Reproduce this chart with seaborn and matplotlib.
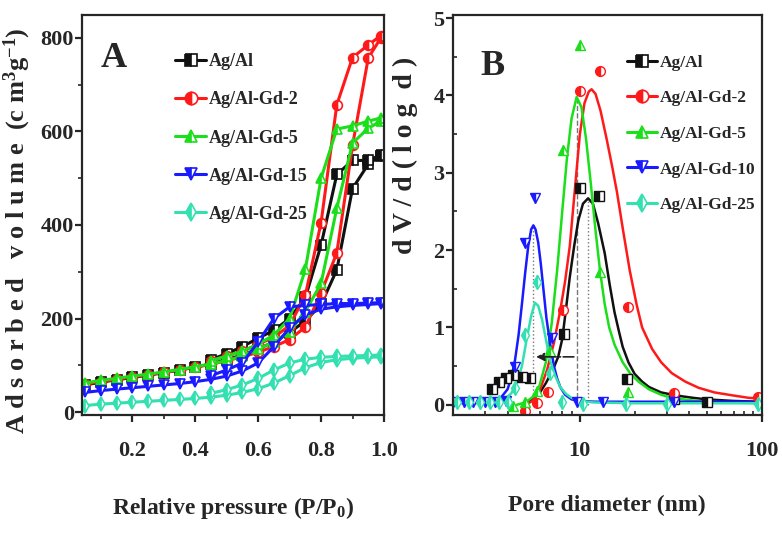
import numpy as np
import pandas as pd
import matplotlib
matplotlib.use("Agg")
import matplotlib.pyplot as plt
from matplotlib.lines import Line2D
from matplotlib.ticker import MultipleLocator, FixedLocator, NullFormatter
import seaborn as sns

# ---------------- data: panel A (N2 isotherms) ----------------
SERIES_A = ['Ag/Al', 'Ag/Al-Gd-2', 'Ag/Al-Gd-5', 'Ag/Al-Gd-15', 'Ag/Al-Gd-25']
P_ADS = [0.05, 0.10, 0.15, 0.20, 0.25, 0.30, 0.35, 0.40, 0.45, 0.50,
         0.55, 0.60, 0.65, 0.70, 0.75, 0.80, 0.85, 0.90, 0.95, 0.99]
P_DES = [0.99, 0.95, 0.90, 0.85, 0.80, 0.75, 0.70, 0.65, 0.60, 0.55, 0.50, 0.45]

ads_agal = [58, 64, 69, 74, 79, 84, 90, 96, 103, 112, 122, 135, 150, 170, 195, 230, 304, 478, 530, 548]
des_agal = [550, 538, 538, 508, 357, 245, 200, 175, 158, 140, 125, 112]
ads_gd2 = [60, 65, 70, 75, 80, 85, 90, 96, 102, 110, 118, 128, 140, 155, 182, 255, 340, 570, 757, 800]
des_gd2 = [805, 785, 758, 657, 405, 250, 185, 160, 145, 130, 120, 110]
ads_gd5 = [62, 68, 72, 77, 81, 86, 91, 97, 103, 110, 120, 135, 150, 172, 215, 275, 436, 575, 607, 622]
des_gd5 = [629, 622, 612, 605, 500, 305, 200, 165, 145, 130, 120, 110]
ads_gd15 = [42, 46, 49, 52, 55, 58, 61, 65, 70, 77, 88, 105, 140, 180, 208, 220, 225, 228, 230, 232]
des_gd15 = [234, 233, 232, 232, 230, 228, 225, 200, 150, 105, 90, 78]
ads_gd25 = [14, 17, 19, 21, 23, 25, 27, 29, 32, 36, 42, 50, 62, 78, 95, 106, 112, 115, 117, 118]
des_gd25 = [122, 121, 120, 119, 117, 113, 105, 90, 72, 58, 48, 40]

# ---------------- data: panel B (pore size distribution) ----------------
SERIES_B = ['Ag/Al', 'Ag/Al-Gd-2', 'Ag/Al-Gd-5', 'Ag/Al-Gd-10', 'Ag/Al-Gd-25']

# measured points
pts_agal_d = [3.3, 3.6, 3.9, 4.3, 4.8, 5.3, 8.2, 10.0, 12.8, 18.2, 33, 50]
pts_agal_v = [0.20, 0.30, 0.35, 0.38, 0.36, 0.35, 0.92, 2.80, 2.70, 0.33, 0.08, 0.04]
pts_gd2_d = [5.0, 5.8, 6.7, 8.1, 10.0, 12.9, 18.4, 33, 95]
pts_gd2_v = [-0.08, 0.02, 0.17, 1.22, 4.06, 4.32, 1.27, 0.15, 0.10]
pts_gd5_d = [4.3, 5.0, 5.8, 6.85, 8.1, 10.0, 12.9, 18.4]
pts_gd5_v = [-0.02, 0.03, 0.18, 0.70, 3.30, 4.65, 1.72, 0.17]
pts_gd10_d = [2.0, 2.3, 2.6, 3.0, 3.4, 3.9, 4.4, 5.0, 5.66, 7.0, 9.6, 13.4, 33]
pts_gd10_v = [0.04, 0.04, 0.04, 0.04, 0.04, 0.05, 0.49, 2.09, 2.68, 0.86, 0.03, 0.03, 0.03]
pts_gd25_d = [2.1, 2.46, 2.82, 3.2, 3.6, 4.0, 4.4, 5.0, 5.8, 6.85, 7.96, 10.4, 18.0, 30, 95]
pts_gd25_v = [0.03, 0.03, 0.03, 0.03, 0.03, 0.04, 0.22, 0.90, 1.59, 0.41, 0.03, 0.01, 0.01, 0.01, 0.01]

# fitted curves
fit_agal_d = [5.0, 5.5, 6.0, 6.5, 7.1, 7.6, 8.0, 8.4, 8.8, 9.3, 9.8, 10.4, 11.1, 11.8, 12.6,
              13.7, 14.6, 15.5, 16.4, 17.2, 18.5, 20, 22, 24, 28, 34, 42, 50, 70, 100]
fit_agal_v = [0.02, 0.07, 0.15, 0.28, 0.45, 0.62, 0.85, 1.25, 1.65, 2.05, 2.38, 2.60, 2.67, 2.60, 2.35,
              1.96, 1.55, 1.20, 0.95, 0.75, 0.55, 0.40, 0.30, 0.23, 0.16, 0.12, 0.09, 0.07, 0.05, 0.04]
fit_gd2_d = [5.0, 5.5, 6.0, 6.6, 7.2, 7.8, 8.3, 8.8, 9.4, 10.0, 10.6, 11.2, 11.6, 12.2, 13.0, 14.0,
             15.0, 16.0, 17.3, 18.8, 20.5, 22, 25, 28, 32, 38, 45, 55, 70, 85, 100]
fit_gd2_v = [0.0, 0.05, 0.18, 0.45, 0.80, 1.22, 1.60, 2.05, 2.80, 3.50, 3.90, 4.05, 4.08, 4.02, 3.80, 3.45,
             3.10, 2.75, 2.25, 1.74, 1.30, 1.00, 0.72, 0.55, 0.41, 0.30, 0.22, 0.16, 0.12, 0.09, 0.08]
fit_gd5_d = [4.5, 5.0, 5.5, 6.0, 6.5, 7.0, 7.5, 8.0, 8.5, 9.0, 9.6, 10.2, 10.8, 11.5, 12.2, 12.9,
             13.7, 14.5, 15.5, 17.2, 19, 21, 24, 28, 32, 40, 50, 65, 100]
fit_gd5_v = [0.0, 0.03, 0.10, 0.25, 0.55, 1.05, 1.74, 2.50, 3.20, 3.70, 3.98, 3.85, 3.45, 2.85, 2.25, 1.74,
             1.30, 1.00, 0.78, 0.55, 0.40, 0.30, 0.20, 0.13, 0.09, 0.06, 0.04, 0.03, 0.02]
fit_gd10_d = [2.0, 3.0, 3.4, 3.7, 4.0, 4.2, 4.4, 4.6, 4.8, 5.0, 5.2, 5.4, 5.55, 5.7, 5.9, 6.1, 6.3,
              6.55, 6.85, 7.2, 7.5, 7.8, 8.3, 9.0, 10, 12, 20, 40, 100]
fit_gd10_v = [0.04, 0.04, 0.06, 0.10, 0.20, 0.35, 0.58, 0.90, 1.30, 1.70, 2.05, 2.27, 2.32, 2.27, 2.10, 1.82, 1.50,
              1.12, 0.80, 0.50, 0.34, 0.23, 0.13, 0.07, 0.05, 0.04, 0.04, 0.04, 0.04]
fit_gd25_d = [2.0, 3.0, 3.5, 3.9, 4.2, 4.5, 4.8, 5.1, 5.4, 5.66, 5.9, 6.2, 6.5, 6.85, 7.3, 7.8,
              8.4, 9.0, 10, 12, 20, 40, 100]
fit_gd25_v = [0.02, 0.02, 0.04, 0.08, 0.15, 0.28, 0.50, 0.85, 1.15, 1.32, 1.28, 1.10, 0.85, 0.58, 0.38, 0.23,
              0.14, 0.09, 0.05, 0.03, 0.02, 0.02, 0.02]

COLORS = ['#111111', '#ff1a1a', '#1adf1a', '#1a1aff', '#33e0b0']
MARKERS = ['s', 'o', '^', 'v', 'd']

# ---------------- style ----------------
sns.set_theme(style="ticks")
plt.rcParams['font.family'] = ['Liberation Serif', 'DejaVu Serif']
plt.rcParams['font.weight'] = 'bold'
plt.rcParams['axes.linewidth'] = 1.6
plt.rcParams['mathtext.fontset'] = 'custom'
plt.rcParams['mathtext.rm'] = 'Liberation Serif:bold'
plt.rcParams['mathtext.it'] = 'Liberation Serif:bold'
plt.rcParams['mathtext.bf'] = 'Liberation Serif:bold'

fig = plt.figure(figsize=(7.82, 5.36), dpi=100)
axA = fig.add_axes([0.105, 0.226, 0.386, 0.746])
axB = fig.add_axes([0.579, 0.226, 0.395, 0.746])


def mk_kws(c, m, ms=7, mew=1.2):
    return dict(color=c, marker=m, markersize=ms, markeredgecolor=c,
                markerfacecolor=c, markerfacecoloralt='white',
                fillstyle='left', markeredgewidth=mew)


# ---------------- panel A ----------------
ads_all = [ads_agal, ads_gd2, ads_gd5, ads_gd15, ads_gd25]
des_all = [des_agal, des_gd2, des_gd5, des_gd15, des_gd25]
for name, ads, des, c, m in zip(SERIES_A, ads_all, des_all, COLORS, MARKERS):
    df_a = pd.DataFrame({'p': P_ADS, 'v': ads})
    df_d = pd.DataFrame({'p': P_DES, 'v': des})
    for df in (df_a, df_d):
        sns.lineplot(data=df, x='p', y='v', ax=axA, sort=False, estimator=None,
                     linewidth=2.2, legend=False, **mk_kws(c, m))

axA.set_xlim(0.04, 1.0)
axA.set_ylim(-6, 849)
axA.xaxis.set_major_locator(FixedLocator([0.2, 0.4, 0.6, 0.8, 1.0]))
axA.xaxis.set_minor_locator(FixedLocator([0.1, 0.3, 0.5, 0.7, 0.9]))
axA.yaxis.set_major_locator(MultipleLocator(200))
axA.yaxis.set_minor_locator(MultipleLocator(100))
axA.set_xticklabels(['0.2', '0.4', '0.6', '0.8', '1.0'])
axA.tick_params(axis='both', which='major', direction='out', length=5, width=1.6, labelsize=16)
axA.tick_params(axis='both', which='minor', direction='out', length=3, width=1.2)
axA.tick_params(axis='x', which='major', pad=14)
axA.tick_params(axis='y', which='major', pad=1)
axA.set_xlabel('Relative pressure (P/P$_0$)', fontsize=17, fontweight='bold', labelpad=24)
axA.set_ylabel('')
fig.text(0.022, 0.57, 'A d s o r b e d   v o l u m e  (c m$^3$g$^{-1}$)', rotation=90,
         ha='center', va='center', fontsize=19, fontweight='bold')
axA.text(0.06, 0.87, 'A', transform=axA.transAxes, fontsize=26, fontweight='bold')

hA = [Line2D([], [], linewidth=2.2, **mk_kws(c, m, 9)) for c, m in zip(COLORS, MARKERS)]
legA = axA.legend(hA, SERIES_A, loc='upper left', bbox_to_anchor=(0.255, 0.945), frameon=False,
                  fontsize=13, handlelength=1.7, handletextpad=0.15, labelspacing=1.17)
for t in legA.get_texts():
    t.set_fontweight('bold')

# ---------------- panel B ----------------
pts_d = [pts_agal_d, pts_gd2_d, pts_gd5_d, pts_gd10_d, pts_gd25_d]
pts_v = [pts_agal_v, pts_gd2_v, pts_gd5_v, pts_gd10_v, pts_gd25_v]
fit_d = [fit_agal_d, fit_gd2_d, fit_gd5_d, fit_gd10_d, fit_gd25_d]
fit_v = [fit_agal_v, fit_gd2_v, fit_gd5_v, fit_gd10_v, fit_gd25_v]

# guide lines at the peaks of the fitted curves
peaks = {}
for name, fd, fv in zip(SERIES_B, fit_d, fit_v):
    i = int(np.argmax(fv))
    peaks[name] = (fd[i], fv[i])
for name, ls in [('Ag/Al-Gd-5', '--'), ('Ag/Al', ':'), ('Ag/Al-Gd-10', ':')]:
    px, py = peaks[name]
    axB.plot([px, px], [0, py], color='#777777', linestyle=ls, linewidth=1.0, zorder=1)
x0 = peaks['Ag/Al-Gd-10'][0]
x1 = peaks['Ag/Al-Gd-5'][0]
axB.annotate('', xy=(x0, 0.62), xytext=(x1, 0.62),
             arrowprops=dict(arrowstyle='-|>', linestyle='-.', color='#222222', lw=1.2))

for name, fd, fv, c in zip(SERIES_B, fit_d, fit_v, COLORS):
    sns.lineplot(x=fd, y=fv, ax=axB, sort=False, estimator=None, color=c,
                 linewidth=1.8, legend=False)
for name, dd, vv, c, m in zip(SERIES_B, pts_d, pts_v, COLORS, MARKERS):
    sns.lineplot(x=dd, y=vv, ax=axB, sort=False, estimator=None, linestyle='none',
                 legend=False, **mk_kws(c, m, 7, 1.0))

axB.set_xscale('log')
axB.set_xlim(2, 100)
axB.set_ylim(-0.13, 5.04)
axB.yaxis.set_major_locator(MultipleLocator(1))
axB.yaxis.set_minor_locator(MultipleLocator(0.5))
axB.xaxis.set_major_locator(FixedLocator([10, 100]))
axB.xaxis.set_minor_locator(FixedLocator([3, 4, 5, 6, 7, 8, 9, 20, 30, 40, 50, 60, 70, 80, 90]))
axB.xaxis.set_minor_formatter(NullFormatter())
axB.set_xticklabels(['10', '100'])
axB.tick_params(axis='both', which='major', direction='out', length=5, width=1.6, labelsize=16)
axB.tick_params(axis='both', which='minor', direction='in', length=3, width=1.2)
axB.tick_params(axis='x', which='major', pad=14)
axB.tick_params(axis='y', which='major', pad=1)
axB.set_xlabel('Pore diameter (nm)', fontsize=17, fontweight='bold', labelpad=24)
axB.set_ylabel('')
fig.text(0.518, 0.71, 'd V / d ( l o g  d )', rotation=90, ha='center', va='center',
         fontsize=20, fontweight='bold')
axB.text(0.09, 0.85, 'B', transform=axB.transAxes, fontsize=26, fontweight='bold')

hB = [Line2D([], [], linewidth=2.2, **mk_kws(c, m, 9)) for c, m in zip(COLORS, MARKERS)]
legB = axB.legend(hB, SERIES_B, loc='upper left', bbox_to_anchor=(0.515, 0.94), frameon=False,
                  fontsize=12.5, handlelength=1.7, handletextpad=0.15, labelspacing=1.12)
for t in legB.get_texts():
    t.set_fontweight('bold')

fig.savefig('out.png', dpi=100)
